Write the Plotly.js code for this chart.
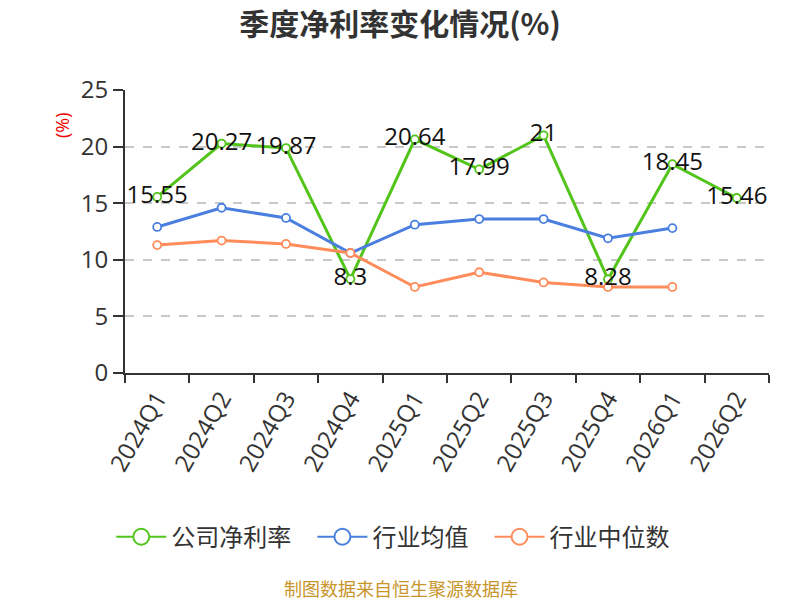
<!DOCTYPE html>
<html><head><meta charset="utf-8">
<script src="https://cdn.plot.ly/plotly-3.0.1.min.js"></script>
<style>body{margin:0}#c{width:800px;height:600px}</style>
</head><body><div id="c"></div>
<script>
const categories = ["2024Q1","2024Q2","2024Q3","2024Q4","2025Q1","2025Q2","2025Q3","2025Q4","2026Q1","2026Q2"];
const companyNet = [15.55,20.27,19.87,8.3,20.64,17.99,21,8.28,18.45,15.46];
const industryAvg = [12.9,14.6,13.7,10.6,13.1,13.6,13.6,11.9,12.8];
const industryMedian = [11.3,11.7,11.4,10.6,7.6,8.9,8.0,7.6,7.6];
const seriesNames = ['公司净利率','行业均值','行业中位数'];
const yTicks = [0,5,10,15,20,25];

const font = "'Open Sans', 'Noto Sans CJK SC', sans-serif";
const cjk = "'Noto Sans CJK SC', sans-serif";
function tr(name, y, color){
  return {
    type:'scatter', mode:'lines+markers', showlegend:false,
    name:name, x:categories.slice(0,y.length), y:y,
    line:{color:color,width:3},
    marker:{symbol:'circle',size:8,color:'#fff',line:{color:color,width:1.8}},
    cliponaxis:false
  };
}
function leg(name, color){
  return {
    type:'scatter', mode:'lines+markers', name:name + '&nbsp;&nbsp;&nbsp;', x:[null], y:[null],
    line:{color:color,width:2},
    marker:{symbol:'circle',size:20,color:'#fff',line:{color:color,width:2}}
  };
}
const colors = ['#52c41a','#4a7fe0','#ff8c5a'];
const data = [
  tr(seriesNames[0], companyNet, colors[0]),
  tr(seriesNames[1], industryAvg, colors[1]),
  tr(seriesNames[2], industryMedian, colors[2]),
  {type:'scatter', mode:'text', showlegend:false, x:categories, y:companyNet,
   text:companyNet.map(v=>String(v)), textposition:'middle center', cliponaxis:false,
   textfont:{size:24,color:'#111',family:font}},
  leg(seriesNames[0],colors[0]),
  leg(seriesNames[1],colors[1]),
  leg(seriesNames[2],colors[2])
];
const layout = {
  width:800, height:600,
  margin:{l:125,r:31,t:90,b:227},
  paper_bgcolor:'#fff', plot_bgcolor:'#fff',
  font:{family:font,color:'#333'},
  title:{text:'<b>季度净利率变化情况(%)</b>', x:0.5, xanchor:'center', y:0.96, yanchor:'middle', font:{size:30,color:'#333',family:cjk}},
  showlegend:true,
  legend:{orientation:'h', x:0.429, xanchor:'center', y:-0.58, yanchor:'middle', font:{size:24,color:'#333',family:cjk},
    itemwidth:50},
  xaxis:{type:'category', categoryorder:'array', categoryarray:categories, range:[-0.5,9.5],
    tickson:'boundaries', ticks:'outside', ticklen:8, tickwidth:2, tickcolor:'#333',
    showline:true, linecolor:'#333', linewidth:2, showgrid:false, zeroline:false,
    tickangle:-60, tickfont:{size:24,color:'#333',family:font}},
  yaxis:{range:[0,25], tickvals:yTicks, ticks:'outside', ticklen:10, tickwidth:2, tickcolor:'#333',
    showline:true, linecolor:'#333', linewidth:2, zeroline:false,
    showgrid:true, gridcolor:'#c8c8c8', griddash:'dash', gridwidth:1.5,
    tickfont:{size:24,color:'#333',family:font}},
  annotations:[
    {text:'(%)', xref:'paper', yref:'paper', x:-0.098, y:0.876, xanchor:'center', yanchor:'middle', showarrow:false, textangle:-90, font:{size:18,color:'#e00',family:font}},
    {text:'制图数据来自恒生聚源数据库', xref:'paper', yref:'paper', x:0.429, y:-0.76, xanchor:'center', yanchor:'middle', showarrow:false, font:{size:18,color:'#c8952a',family:cjk}}
  ]
};
Plotly.newPlot('c', data, layout, {displayModeBar:false});
</script></body></html>
